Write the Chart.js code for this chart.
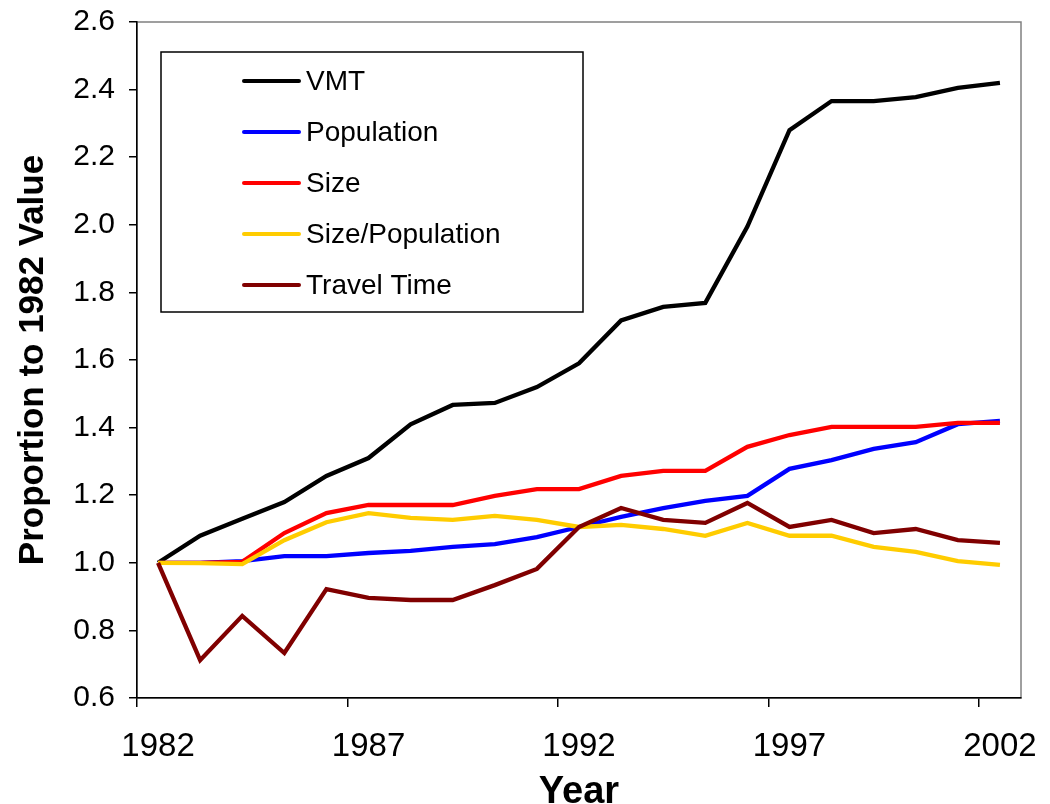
<!DOCTYPE html>
<html>
<head>
<meta charset="utf-8">
<script src="https://cdn.jsdelivr.net/npm/chart.js@4.4.1/dist/chart.umd.min.js"></script>
<style>
  body { margin: 0; background: #fff; }
  canvas { display: block; }
</style>
</head>
<body>
<canvas id="myChart" width="1050" height="804"></canvas>
<script>
const years = ["1982","1983","1984","1985","1986","1987","1988","1989","1990","1991","1992",
  "1993","1994","1995","1996","1997","1998","1999","2000","2001","2002"];

const vmt = [1.00,1.08,1.13,1.18,1.257,1.31,1.41,1.467,1.473,1.52,1.59,
  1.717,1.757,1.769,1.995,2.28,2.366,2.366,2.378,2.405,2.42];
const population = [1.00,1.00,1.005,1.02,1.02,1.029,1.035,1.047,1.055,1.076,1.106,
  1.136,1.162,1.183,1.198,1.278,1.304,1.337,1.357,1.41,1.42];
const size = [1.00,1.00,1.003,1.088,1.147,1.171,1.171,1.171,1.198,1.218,1.218,
  1.257,1.272,1.272,1.343,1.378,1.402,1.402,1.402,1.414,1.414];
const sizePerPop = [1.00,0.999,0.996,1.067,1.12,1.147,1.133,1.127,1.139,1.127,1.106,
  1.112,1.10,1.08,1.118,1.08,1.08,1.047,1.032,1.005,0.994];
const travelTime = [1.00,0.712,0.843,0.733,0.922,0.896,0.89,0.89,0.934,0.982,1.106,
  1.162,1.127,1.118,1.177,1.106,1.127,1.088,1.10,1.067,1.059];

const seriesNames = ["VMT","Population","Size","Size/Population","Travel Time"];
const seriesColors = ["#000000","#0000ff","#ff0000","#ffcc00","#800000"];
const seriesData = [vmt, population, size, sizePerPop, travelTime];

const yTicks = [0.6,0.8,1.0,1.2,1.4,1.6,1.8,2.0,2.2,2.4,2.6];

const fontFam = '"Liberation Sans", Arial, sans-serif';

// fondo blanco + marco gris del area de trazado
const marco = {
  id: "marco",
  beforeDraw(chart) {
    const c = chart.ctx, a = chart.chartArea;
    c.save();
    c.fillStyle = "#fff";
    c.fillRect(0, 0, chart.width, chart.height);
    c.strokeStyle = "#808080";
    c.lineWidth = 1.5;
    c.strokeRect(a.left, a.top, a.right - a.left, a.bottom - a.top);
    c.restore();
  }
};

// leyenda dentro del grafico
const leyenda = {
  id: "leyenda",
  afterDraw(chart) {
    const c = chart.ctx;
    const box = { x: 161, y: 52, w: 422, h: 260 };
    c.save();
    c.fillStyle = "#fff";
    c.fillRect(box.x, box.y, box.w, box.h);
    c.strokeStyle = "#000";
    c.lineWidth = 1.5;
    c.strokeRect(box.x, box.y, box.w, box.h);
    c.font = "28px " + fontFam;
    c.textBaseline = "middle";
    c.lineCap = "round";
    chart.data.datasets.forEach((ds, i) => {
      const y = 81 + i * 51;
      c.strokeStyle = ds.borderColor;
      c.lineWidth = 4;
      c.beginPath();
      c.moveTo(244, y);
      c.lineTo(299, y);
      c.stroke();
      c.fillStyle = "#000";
      c.fillText(ds.label, 306, y + 1);
    });
    c.restore();
  }
};

new Chart(document.getElementById("myChart"), {
  type: "line",
  data: {
    labels: years,
    datasets: seriesNames.map((name, i) => ({
      label: name,
      data: seriesData[i],
      borderColor: seriesColors[i],
      backgroundColor: seriesColors[i],
      borderWidth: 4.3,
      pointRadius: 0,
      tension: 0,
      order: seriesNames.length - 1 - i,
    })),
  },
  options: {
    responsive: false,
    animation: false,
    events: [],
    layout: { padding: { left: 0, top: 22, right: 29, bottom: 0 } },
    plugins: { legend: { display: false }, tooltip: { enabled: false } },
    scales: {
      x: {
        type: "category",
        offset: true,
        afterFit(scale) {
          scale.height = 106;
          scale.paddingLeft = 0;
          scale.paddingRight = 0;
        },
        border: { color: "#000", width: 1.5 },
        grid: {
          offset: true,
          drawOnChartArea: false,
          tickLength: 9,
          lineWidth: 1.5,
          color: (ctx) => (ctx.index % 5 === 0 && ctx.index < years.length ? "#000" : "rgba(0,0,0,0)"),
        },
        ticks: {
          autoSkip: false,
          maxRotation: 0,
          padding: 20,
          color: "#000",
          font: { family: fontFam, size: 33 },
          callback(v, i) { return i % 5 === 0 ? years[i] : ""; },
        },
        title: {
          display: true,
          text: "Year",
          color: "#000",
          font: { family: fontFam, size: 38, weight: "bold", lineHeight: 1 },
          padding: { top: 0, bottom: -8 },
        },
      },
      y: {
        min: yTicks[0],
        max: yTicks[yTicks.length - 1],
        afterFit(scale) {
          scale.width = 137;
          scale.paddingTop = 0;
          scale.paddingBottom = 0;
        },
        afterBuildTicks(scale) { scale.ticks = yTicks.map((v) => ({ value: v })); },
        border: { color: "#000", width: 1.5 },
        grid: { drawOnChartArea: false, tickLength: 8, lineWidth: 1.5, color: "#000" },
        ticks: {
          padding: 14,
          color: "#000",
          font: { family: fontFam, size: 30 },
          callback(v) { return v.toFixed(1); },
        },
        title: {
          display: true,
          text: "Proportion to 1982 Value",
          color: "#000",
          font: { family: fontFam, size: 35, weight: "bold", lineHeight: 1.2 },
          padding: { top: 12, bottom: 0 },
        },
      },
    },
  },
  plugins: [marco, leyenda],
});
</script>
</body>
</html>
